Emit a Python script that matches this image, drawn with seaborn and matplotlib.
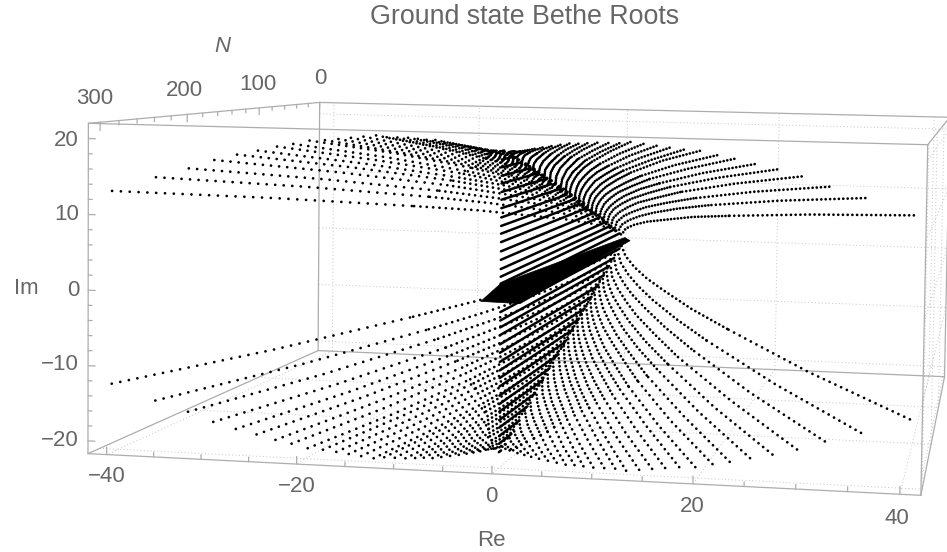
#!/usr/bin/env python
import matplotlib
matplotlib.use("Agg")
import matplotlib.pyplot as plt
import numpy as np
import pandas as pd
import seaborn as sns

# box limits in data units
RE_LIM = (-42.0, 42.0)
IM_LIM = (-21.7, 22.0)
N_LIM = (0.0, 312.0)

# one quadrant of the roots (the others are its mirror images), tip (N=300) to onset
arc_n = [
    [300, 229, 157, 120, 86, 63, 43, 25, 14], [300, 231, 162, 127, 94, 72, 53, 36, 25],
    [300, 234, 168, 134, 101, 81, 62, 47, 36], [300, 237, 174, 141, 110, 90, 72, 57, 47],
    [300, 240, 179, 148, 119, 99, 82, 68, 58], [300, 242, 184, 154, 127, 108, 92, 78, 69],
    [300, 245, 190, 161, 135, 117, 102, 89, 80], [300, 248, 196, 168, 143, 127, 112, 99, 91],
    [300, 250, 201, 175, 152, 136, 122, 110, 102], [300, 253, 206, 182, 160, 145, 132, 120, 113],
    [300, 256, 212, 189, 168, 154, 142, 131, 124], [300, 259, 218, 196, 176, 163, 152, 142, 135],
    [300, 262, 223, 203, 184, 172, 161, 152, 146], [300, 264, 228, 210, 193, 181, 171, 163, 157],
    [300, 267, 234, 201, 181, 168], [300, 270, 240, 210, 192, 180], [300, 273, 246, 219, 203, 192],
    [300, 276, 252, 228, 214, 204], [300, 279, 258, 237, 224, 216], [300, 282, 264, 246, 235, 228],
    [300, 285, 270, 255, 246, 240], [300, 288, 276, 263, 256, 251], [300, 290, 281, 272, 266, 262],
    [300, 293, 286, 279, 275, 272], [300, 295, 290, 286, 283, 281], [300, 297, 294, 291, 289, 288],
    [300, 299, 297, 296, 295, 294],
]
arc_re = [
    [40.7, 29.2, 18.4, 13.0, 8.3, 5.3, 2.9, 1.0, 0], [36.0, 25.8, 16.2, 11.5, 7.3, 4.7, 2.6, 0.9, 0],
    [32.5, 23.3, 14.7, 10.4, 6.6, 4.2, 2.3, 0.8, 0], [29.8, 21.4, 13.4, 9.5, 6.0, 3.9, 2.1, 0.7, 0],
    [27.4, 19.7, 12.4, 8.7, 5.6, 3.6, 1.9, 0.7, 0], [25.2, 18.1, 11.4, 8.0, 5.1, 3.3, 1.8, 0.6, 0],
    [23.2, 16.7, 10.5, 7.4, 4.7, 3.0, 1.6, 0.6, 0], [21.5, 15.4, 9.7, 6.9, 4.4, 2.8, 1.5, 0.5, 0],
    [19.8, 14.2, 8.9, 6.3, 4.0, 2.6, 1.4, 0.5, 0], [18.2, 13.1, 8.2, 5.8, 3.7, 2.4, 1.3, 0.5, 0],
    [16.8, 12.1, 7.6, 5.4, 3.4, 2.2, 1.2, 0.4, 0], [15.5, 11.1, 7.0, 4.9, 3.1, 2.0, 1.1, 0.4, 0],
    [14.2, 10.2, 6.4, 4.5, 2.9, 1.8, 1.0, 0.4, 0], [12.9, 9.3, 5.8, 4.1, 2.6, 1.7, 0.9, 0.3, 0],
    [11.8, 8.5, 5.3, 2.4, 0.8, 0], [10.7, 7.7, 4.8, 2.2, 0.8, 0], [9.6, 6.9, 4.3, 1.9, 0.7, 0],
    [8.6, 6.2, 3.9, 1.7, 0.6, 0], [7.7, 5.5, 3.5, 1.6, 0.5, 0], [6.8, 4.9, 3.1, 1.4, 0.5, 0],
    [5.9, 4.2, 2.7, 1.2, 0.4, 0], [5.0, 3.6, 2.3, 1.0, 0.4, 0], [4.1, 2.9, 1.8, 0.8, 0.3, 0],
    [3.3, 2.4, 1.5, 0.7, 0.2, 0], [2.6, 1.9, 1.2, 0.5, 0.2, 0], [1.9, 1.4, 0.9, 0.4, 0.1, 0],
    [1.1, 0.8, 0.5, 0.2, 0.1, 0],
]
arc_im = [
    [12.9, 10.8, 8.4, 7.1, 5.6, 4.6, 3.5, 2.3, 0.9], [14.9, 12.6, 10.0, 8.5, 6.9, 5.7, 4.5, 3.2, 1.7],
    [16.2, 13.8, 11.1, 9.5, 7.9, 6.6, 5.4, 4.0, 2.4], [17.4, 14.9, 12.1, 10.4, 8.8, 7.5, 6.2, 4.8, 3.1],
    [18.2, 15.7, 12.9, 11.2, 9.6, 8.3, 7.0, 5.6, 3.9], [18.8, 16.3, 13.5, 11.9, 10.2, 8.9, 7.6, 6.2, 4.6],
    [19.4, 16.9, 14.2, 12.5, 10.9, 9.6, 8.3, 6.9, 5.3], [19.8, 17.4, 14.7, 13.1, 11.5, 10.3, 9.0, 7.7, 6.1],
    [20.3, 18.0, 15.3, 13.7, 12.1, 10.9, 9.7, 8.4, 6.8], [20.4, 18.1, 15.6, 14.1, 12.6, 11.4, 10.3, 9.0, 7.5],
    [20.6, 18.4, 16.0, 14.6, 13.2, 12.0, 10.9, 9.7, 8.3], [20.8, 18.7, 16.4, 15.1, 13.7, 12.6, 11.5, 10.4, 9.0],
    [21.0, 19.0, 16.8, 15.5, 14.2, 13.1, 12.1, 11.0, 9.7], [21.2, 19.3, 17.2, 16.0, 14.7, 13.8, 12.8, 11.7, 10.5],
    [21.0, 19.3, 17.4, 15.1, 13.3, 11.2], [21.0, 19.4, 17.7, 15.6, 13.9, 12.0], [21.0, 19.6, 18.0, 16.0, 14.6, 12.8],
    [20.9, 19.6, 18.2, 16.5, 15.2, 13.6], [20.8, 19.7, 18.4, 16.9, 15.8, 14.4], [20.8, 19.8, 18.7, 17.4, 16.4, 15.2],
    [20.6, 19.8, 18.9, 17.8, 17.0, 16.0], [20.4, 19.8, 19.0, 18.2, 17.5, 16.7], [20.2, 19.7, 19.2, 18.6, 18.1, 17.5],
    [20.0, 19.7, 19.3, 18.9, 18.5, 18.1], [19.8, 19.6, 19.4, 19.1, 18.9, 18.7], [19.6, 19.5, 19.5, 19.4, 19.3, 19.2],
    [19.3, 19.3, 19.3, 19.2, 19.2, 19.2],
]

# roots on the imaginary axis: height and the N where each one appears
string_im = [1.3, 2.4, 3.3, 4.3, 5.5, 6.6, 7.8, 8.9, 9.9, 11.0, 12.2, 13.3, 14.3, 15.4, 16.4, 17.5, 18.5, 19.6]
string_n = [20, 36, 50, 65, 82, 99, 117, 133, 148, 165, 183, 200, 214, 231, 246, 262, 277, 296]

# dense cluster around Im = 0
band_re = [-2.0, 2.0, 0.8, 0.1, 0.0]
band_im = [0.0, -0.1, -0.3, 0.2, 2.4]
band_n = [300, 300, 6, 6, 300]

re_ticks = [-40, -20, 0, 20, 40]
re_minor = [-35, -30, -25, -15, -10, -5, 5, 10, 15, 25, 30, 35]
im_ticks = [-20, -10, 0, 10, 20]
n_ticks = [0, 100, 200, 300]

# dot spacing in pixels per quadrant: (sign of Re, sign of Im, shortest arc, longest arc)
quadrant_spacing = [(-1, 1, 5.5, 8.8), (-1, -1, 5.5, 8.7), (1, 1, 2.4, 4.7), (1, -1, 5.0, 6.3)]

# screen position of the box corners, used to fit the camera
CORNERS = [
    (RE_LIM[0], IM_LIM[1], N_LIM[1], 88, 124), (RE_LIM[1], IM_LIM[1], N_LIM[1], 930, 145),
    (RE_LIM[0], IM_LIM[0], N_LIM[1], 88, 453), (RE_LIM[1], IM_LIM[0], N_LIM[1], 919, 495),
    (RE_LIM[0], IM_LIM[1], N_LIM[0], 320, 102), (RE_LIM[1], IM_LIM[1], N_LIM[0], 948, 117),
    (RE_LIM[0], IM_LIM[0], N_LIM[0], 318, 351), (RE_LIM[1], IM_LIM[0], N_LIM[0], 946, 377),
]
TEXT_GREY = "#666666"
EDGE_GREY = "#adadad"
GRID_GREY = "#c4c4c4"
DOT_WIDTH = 2.0  # points


def fit_camera() -> np.ndarray:
    rows = []
    for re, im, n, px, py in CORNERS:
        v = [re, im, n, 1.0]
        rows.append(v + [0, 0, 0, 0] + [-px * c for c in v])
        rows.append([0, 0, 0, 0] + v + [-py * c for c in v])
    return np.linalg.svd(np.array(rows))[2][-1].reshape(3, 4)


CAMERA = fit_camera()


def project(re, im, n):
    re, im, n = np.broadcast_arrays(np.asarray(re, float), np.asarray(im, float), np.asarray(n, float))
    h = CAMERA @ np.vstack([re.ravel(), im.ravel(), n.ravel(), np.ones(re.size)])
    return h[0] / h[2], h[1] / h[2]


def draw_segment(ax, start, end, **kws):
    x, y = project(*zip(start, end))
    ax.plot(x, y, **kws)


def dotted(ax, x, y, spacing_px: float) -> None:
    gap = max(spacing_px * 0.72 / DOT_WIDTH, 0.3)
    sns.lineplot(
        x=x, y=y, estimator=None, sort=False, color="black", linewidth=DOT_WIDTH,
        linestyle=(0, (0.01, gap)), dash_capstyle="round", legend=False, ax=ax, zorder=3,
    )


def draw_arcs(ax, re_sign: int, im_sign: int, short: float, long: float) -> None:
    curves = [
        project(re_sign * np.array(re), im_sign * np.array(im), n)
        for re, im, n in zip(arc_re, arc_im, arc_n)
    ]
    lengths = [np.hypot(np.diff(x), np.diff(y)).sum() for x, y in curves]
    for (x, y), length in zip(curves, lengths):
        spacing = short + (long - short) * length / max(lengths)
        # dots sit closer together towards the onset of an arc
        dotted(ax, x[:3], y[:3], spacing)
        dotted(ax, x[2:], y[2:], spacing * 0.72)


def draw_frame(ax) -> None:
    grid = dict(color=GRID_GREY, lw=0.7, ls=(0, (1, 2.5)), zorder=1)
    re0, re1 = RE_LIM
    im0, im1 = IM_LIM
    n0, n1 = N_LIM
    for re in re_ticks:
        draw_segment(ax, (re, im0, n0), (re, im1, n0), **grid)
        draw_segment(ax, (re, im0, n0), (re, im0, n1), **grid)
    for im in im_ticks:
        draw_segment(ax, (re0, im, n0), (re1, im, n0), **grid)
        draw_segment(ax, (re1, im, n0), (re1, im, n1), **grid)
    for n in n_ticks[1:]:
        draw_segment(ax, (re0, im0, n), (re1, im0, n), **grid)
        draw_segment(ax, (re1, im0, n), (re1, im1, n), **grid)

    edge = dict(color=EDGE_GREY, lw=0.9, zorder=2)
    for a, b in [
        ((re0, im1, n1), (re1, im1, n1)), ((re0, im0, n1), (re1, im0, n1)),
        ((re0, im0, n1), (re0, im1, n1)), ((re1, im0, n1), (re1, im1, n1)),
        ((re0, im1, n0), (re1, im1, n0)), ((re0, im0, n0), (re1, im0, n0)),
        ((re0, im0, n0), (re0, im1, n0)), ((re1, im0, n0), (re1, im1, n0)),
        ((re0, im1, n0), (re0, im1, n1)), ((re0, im0, n0), (re0, im0, n1)),
        ((re1, im1, n0), (re1, im1, n1)), ((re1, im0, n0), (re1, im0, n1)),
    ]:
        draw_segment(ax, a, b, **edge)

    tick = dict(color=EDGE_GREY, lw=0.9, zorder=2)
    for im in np.arange(-20, 21, 2):
        size = 0.75 if im % 10 == 0 else 0.42
        draw_segment(ax, (re0, im, n1), (re0 + size, im, n1), **tick)
    for re in re_ticks + re_minor:
        size = 1.0 if re % 20 == 0 else 0.6
        draw_segment(ax, (re, im0, n1), (re, im0 + size, n1), **tick)
    for n in np.arange(0, 301, 20):
        size = 1.1 if n % 100 == 0 else 0.6
        draw_segment(ax, (re0, im1, n), (re0, im1 - size, n), **tick)


def draw_labels(ax) -> None:
    style = dict(color=TEXT_GREY, fontsize=16, ha="center", va="center")
    ax.text(525, 17, "Ground state Bethe Roots", color=TEXT_GREY, fontsize=19.3, ha="center", va="center")
    ax.text(222, 46, "N", style="italic", **style)
    ax.text(26, 288, "Im", color=TEXT_GREY, fontsize=16, ha="center", va="center")
    ax.text(491, 540, "Re", color=TEXT_GREY, fontsize=16, ha="center", va="center")
    for label, x, y in zip(["300", "200", "100", "0"], [95, 184, 258, 320], [99, 91, 85, 78]):
        ax.text(x, y, label, **style)
    for value, y in zip(im_ticks, [441, 365, 291, 215, 140]):
        ax.text(79, y, str(value).replace("-", "\u2212"), color=TEXT_GREY, fontsize=16, ha="right", va="center")
    for value, x, y in zip(re_ticks, [107, 297, 491, 692, 897], [476, 487, 497, 507, 518]):
        ax.text(x, y, str(value).replace("-", "\u2212"), **style)


def main() -> None:
    sns.set_theme(style="white")
    plt.rcParams["font.family"] = ["Liberation Sans", "DejaVu Sans"]
    fig = plt.figure(figsize=(9.47, 5.52), dpi=100)
    ax = fig.add_axes([0, 0, 1, 1])

    draw_frame(ax)

    for re_sign, im_sign, short, long in quadrant_spacing:
        draw_arcs(ax, re_sign, im_sign, short, long)

    strings = []
    for curve, (im, n) in enumerate(zip(string_im, string_n)):
        for sign in (1, -1):
            x, y = project(0.0, sign * np.array([im, im]), [300, n])
            strings.append(pd.DataFrame({"x": x, "y": y, "curve": f"{curve}{sign}"}))
    sns.lineplot(
        data=pd.concat(strings, ignore_index=True), x="x", y="y", units="curve",
        estimator=None, sort=False, color="black", linewidth=1.8, legend=False, ax=ax, zorder=3,
    )

    band_x, band_y = project(band_re, band_im, band_n)
    ax.fill(band_x, band_y, color="black", lw=0.5, zorder=4)

    draw_labels(ax)
    ax.set_xlim(0, 947)
    ax.set_ylim(552, 0)
    ax.axis("off")
    fig.savefig("out.png", dpi=100)
    plt.close(fig)


if __name__ == "__main__":
    main()
